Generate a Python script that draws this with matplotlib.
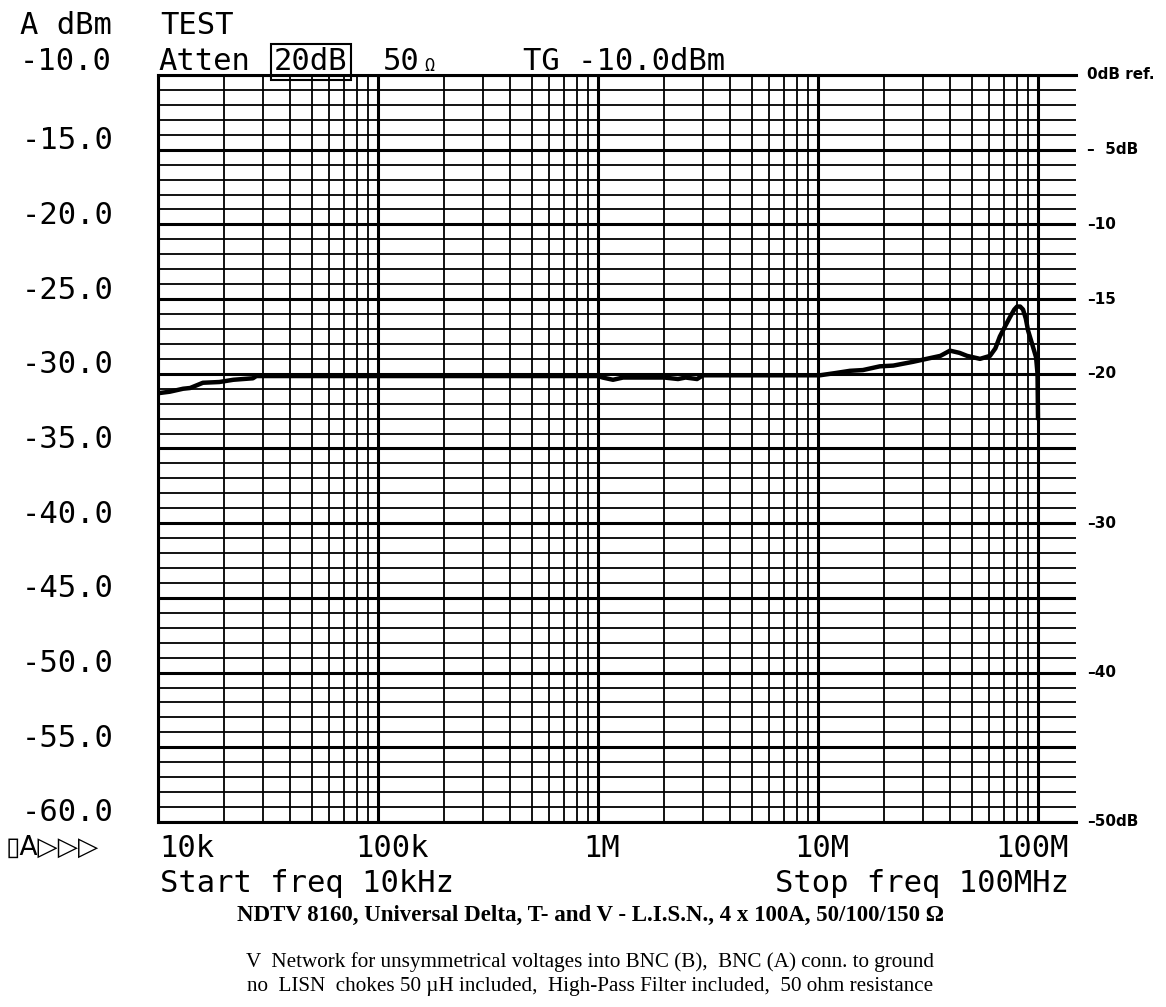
import matplotlib
matplotlib.use("Agg")
import matplotlib.pyplot as plt
from matplotlib.transforms import ScaledTranslation
import numpy as np

# ---------------- data ----------------
freq_hz = [10e3, 11.3e3, 13e3, 14e3, 16e3, 19e3, 22e3, 27e3, 28e3, 40e3,
           100e3, 300e3, 1e6, 1.05e6, 1.17e6, 1.3e6, 2e6, 2.31e6, 2.5e6,
           2.82e6, 3.0e6, 5e6, 10.2e6, 12e6, 13.97e6, 16e6, 19.1e6, 22e6,
           27e6, 32.3e6, 36e6, 39.8e6, 44e6, 47.6e6, 54.5e6, 60.5e6, 64e6,
           67.1e6, 71e6, 74.6e6, 78e6, 80.3e6, 83e6, 85.5e6, 88e6, 90.1e6,
           94.9e6, 98e6, 99.5e6, 100e6]
level_dbm = [-31.3, -31.2, -31.0, -30.95, -30.6, -30.55, -30.4, -30.3, -30.15,
             -30.15, -30.15, -30.15, -30.15, -30.25, -30.4, -30.25, -30.25,
             -30.35, -30.25, -30.35, -30.1, -30.1, -30.1, -29.95, -29.8, -29.75,
             -29.5, -29.45, -29.2, -28.95, -28.8, -28.45, -28.6, -28.8, -29.0,
             -28.8, -28.3, -27.5, -26.8, -26.2, -25.7, -25.5, -25.5, -25.7,
             -26.3, -27.1, -28.2, -28.9, -30.0, -33.0]

y_major = [-60, -55, -50, -45, -40, -35, -30, -25, -20, -15, -10]
y_labels = ["-60.0", "-55.0", "-50.0", "-45.0", "-40.0", "-35.0", "-30.0",
            "-25.0", "-20.0", "-15.0", ""]
rel_pos_dbm = [-10, -15, -20, -25, -30, -40, -50, -60]
rel_labels = ["0dB ref.", "–  5dB", "–10", "–15", "–20", "–30", "–40", "–50dB"]
x_decades = [1e4, 1e5, 1e6, 1e7, 1e8]
x_labels = ["10k", "100k", "1M", "10M", "100M"]

W, H = 1166, 1007
fig = plt.figure(figsize=(W / 100, H / 100), dpi=100)
fig.patch.set_facecolor("white")

left_px, right_px, top_px, bot_px = 158, 1076, 75, 822
ax = fig.add_axes([left_px / W, 1 - bot_px / H, (right_px - left_px) / W,
                   (bot_px - top_px) / H])
ax.set_xscale("log")
x_right = 1e8 * 10 ** ((right_px - 1038) / 220.0)
ax.set_xlim(1e4, x_right)
ax.set_ylim(-60, -10)

minor_x = [m * d for d in x_decades[:-1] for m in range(2, 10)]
ax.set_xticks(x_decades)
ax.set_xticks(minor_x, minor=True)
ax.set_xticklabels([])
ax.set_yticks(y_major)
ax.set_yticks(np.arange(-60, -9, 1), minor=True)

mono = "DejaVu Sans Mono"
FS = 22
ax.set_yticklabels(y_labels, fontfamily=mono, fontsize=FS)
ax.tick_params(axis="both", which="both", length=0)
ax.tick_params(axis="y", pad=32)
off = ScaledTranslation(0, 0.12, fig.dpi_scale_trans)
for lab in ax.get_yticklabels():
    lab.set_transform(lab.get_transform() + off)

ax.grid(which="major", axis="x", color="black", lw=2.2)
ax.grid(which="minor", axis="x", color="black", lw=1.3)
ax.set_axisbelow(True)
ax.spines["right"].set_visible(False)
for s in ["left", "top", "bottom"]:
    ax.spines[s].set_linewidth(2.2)

# no vertical grid beyond 100M
ax.axvspan(1e8 * 1.0001, x_right, color="white", zorder=0.5, lw=0)
for yv in np.arange(-60, -9, 1):
    lw = 2.2 if yv % 5 == 0 else 1.3
    ax.axhline(yv, xmin=0, xmax=1, color="black", lw=lw, zorder=0.6)

ax.plot(freq_hz, level_dbm, color="black", lw=3.2, zorder=3,
        solid_joinstyle="round", solid_capstyle="round")

# right-hand relative dB labels
for yv, t in zip(rel_pos_dbm, rel_labels):
    ax.annotate(t, xy=(1.0, yv), xycoords=("axes fraction", "data"),
                xytext=(8, 0), textcoords="offset points", ha="left",
                va="center", fontsize=11, fontweight="bold",
                family=["DejaVu Sans"])

# x labels
x_off_pt = [1, 10, 3, 3, -4]
for xv, t, dx in zip(x_decades, x_labels, x_off_pt):
    ha = "left" if xv == 1e4 else "center"
    ax.annotate(t, xy=(xv, 0), xycoords=("data", "axes fraction"),
                xytext=(dx, -19), textcoords="offset points",
                ha=ha, va="center", fontsize=FS, family=mono)

def ftext(x, y, s, **kw):
    kw.setdefault("family", mono)
    kw.setdefault("fontsize", FS)
    kw.setdefault("va", "center")
    kw.setdefault("ha", "left")
    return fig.text(x / W, 1 - y / H, s, **kw)

ftext(20, 25, "A dBm")
ftext(160, 25, "TEST")
ftext(20, 62, "-10.0")
ftext(158, 62, "Atten")
ftext(274, 62, "20dB",
      bbox=dict(boxstyle="square,pad=0.1", fc="none", ec="black", lw=1.5))
ftext(383, 62, "50")
ftext(424, 66, "Ω", fontsize=12)
ftext(523, 62, "TG -10.0dBm")
ftext(6, 848, "▯A▷▷▷", family=["DejaVu Sans"], fontsize=19)
ftext(160, 884, "Start freq 10kHz")
ftext(775, 884, "Stop freq 100MHz")

serif = "Liberation Serif"
ftext(590, 915, "NDTV 8160, Universal Delta, T- and V - L.I.S.N., 4 x 100A, 50/100/150 Ω",
      family=serif, fontsize=16.5, fontweight="bold", ha="center")
ftext(590, 962, "V  Network for unsymmetrical voltages into BNC (B),  BNC (A) conn. to ground",
      family=serif, fontsize=15.2, ha="center")
ftext(590, 986, "no  LISN  chokes 50 µH included,  High-Pass Filter included,  50 ohm resistance",
      family=serif, fontsize=15.2, ha="center")

fig.savefig("out.png", dpi=100, facecolor="white")
